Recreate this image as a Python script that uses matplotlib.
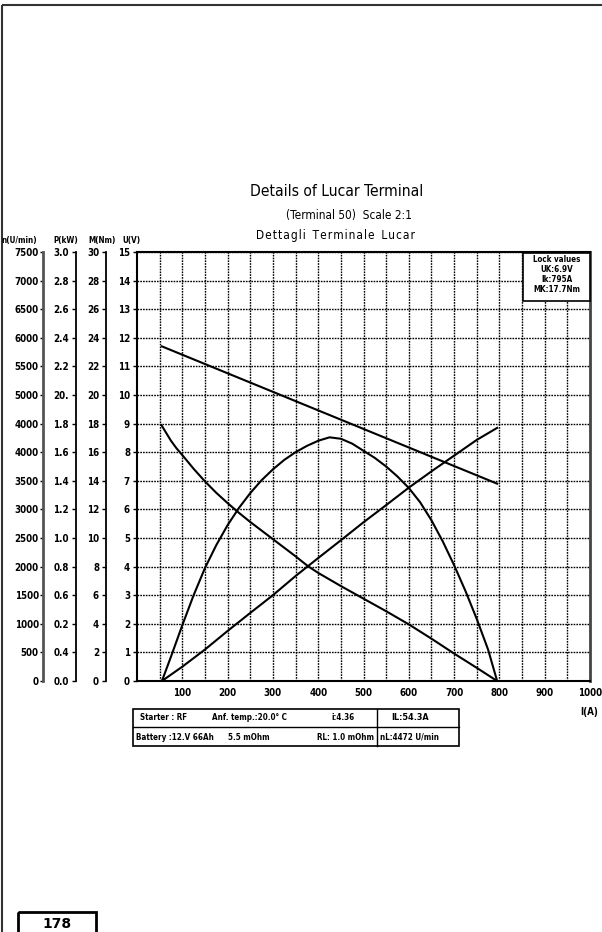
import matplotlib
matplotlib.use("Agg")
import matplotlib.pyplot as plt
from matplotlib import font_manager
from matplotlib.patches import Rectangle
from matplotlib.ticker import FixedLocator

# prefer a condensed sans when one is installed
CONDENSED = any(f.name == "DejaVu Sans" and "condensed" in str(f.stretch)
                for f in font_manager.fontManager.ttflist)
plt.rcParams["font.family"] = ["DejaVu Sans"]
if CONDENSED:
    plt.rcParams["font.stretch"] = "condensed"
K = 1.0 if CONDENSED else 0.85

# ---- scales -------------------------------------------------------------
current_ticks = [100, 200, 300, 400, 500, 600, 700, 800, 900, 1000]
u_ticks = list(range(0, 16))
n_ticks = list(range(0, 7501, 500))
n_labels = ["0", "500", "1000", "1500", "2000", "2500", "3000", "3500",
            "4000", "4000", "5000", "5500", "6000", "6500", "7000", "7500"]
p_ticks = [i * 0.2 for i in range(16)]
p_labels = ["0.0", "0.4", "0.2", "0.6", "0.8", "1.0", "1.2", "1.4",
            "1.6", "1.8", "20.", "2.2", "2.4", "2.6", "2.8", "3.0"]
m_ticks = list(range(0, 31, 2))
m_labels = [str(v) for v in m_ticks]

# ---- measured characteristics --------------------------------------------
volt_I = [55, 795]
volt_U = [11.7, 6.9]

speed_I = [54, 65, 75, 87, 100, 125, 150, 175, 200, 225, 250, 275, 300,
           325, 350, 377, 400, 450, 500, 550, 600, 650, 700, 750, 795]
speed_n = [4472, 4330, 4200, 4070, 3950, 3710, 3490, 3290, 3110, 2940,
           2780, 2630, 2480, 2330, 2180, 2010, 1890, 1660, 1440, 1220,
           990, 740, 480, 230, 0]

power_I = [55, 75, 100, 125, 150, 175, 200, 225, 250, 275, 300, 325, 350,
           375, 400, 425, 450, 475, 500, 525, 550, 575, 600, 625, 650,
           675, 700, 725, 750, 775, 795]
power_kW = [0.0, 0.17, 0.39, 0.60, 0.79, 0.95, 1.09, 1.21, 1.314, 1.404,
            1.48, 1.546, 1.60, 1.644, 1.68, 1.704, 1.694, 1.66, 1.61,
            1.56, 1.50, 1.43, 1.35, 1.25, 1.124, 0.976, 0.81, 0.63, 0.434,
            0.22, 0.0]

torque_I = [55, 100, 150, 200, 250, 300, 350, 400, 450, 500, 550, 600,
            650, 700, 750, 795]
torque_Nm = [0.0, 1.0, 2.2, 3.5, 4.76, 6.0, 7.34, 8.6, 9.84, 11.1, 12.3,
             13.52, 14.66, 15.76, 16.86, 17.7]

lock_lines = ["Lock values", "UK:6.9V", "Ik:795A", "MK:17.7Nm"]

W, H = 602, 932
fig = plt.figure(figsize=(W / 100, H / 100), dpi=100)
fig.patch.set_facecolor("white")

left, right, top, bottom = 137, 590, 252, 681
ax = fig.add_axes([left / W, (H - bottom) / H, (right - left) / W,
                   (bottom - top) / H])
ax.set_xlim(0, 1000)
ax.set_ylim(0, 15)
ax.set_xticks(current_ticks)
ax.set_xticklabels([str(v) for v in current_ticks])
ax.xaxis.set_minor_locator(FixedLocator(list(range(50, 1000, 50))))
ax.set_yticks(u_ticks)
ax.set_yticklabels([str(v) for v in u_ticks])
ax.grid(True, which="both", color="black", linestyle=(0, (1.2, 0.8)),
        linewidth=1.0)
ax.set_axisbelow(True)
ax.tick_params(axis="x", which="both", length=0, pad=5, labelsize=7 * K)
ax.tick_params(axis="y", which="major", direction="out", length=3,
               width=1, pad=2, labelsize=7 * K)
for lab in ax.get_xticklabels() + ax.get_yticklabels():
    lab.set_fontweight("bold")
for sp in ax.spines.values():
    sp.set_linewidth(1.5)
ax.spines["right"].set_linewidth(2.0)
ax.spines["right"].set_color("#444444")

ax.plot(volt_I, volt_U, color="black", linewidth=1.5, zorder=3)


def side_axis(frac, lim, ticks, labels):
    tw = ax.twinx()
    tw.set_ylim(*lim)
    tw.spines["right"].set_visible(False)
    tw.spines["top"].set_visible(False)
    tw.spines["bottom"].set_visible(False)
    tw.spines["left"].set_visible(True)
    tw.spines["left"].set_position(("axes", frac))
    tw.spines["left"].set_linewidth(1.3)
    tw.yaxis.set_ticks_position("left")
    tw.yaxis.set_label_position("left")
    tw.set_yticks(ticks)
    tw.set_yticklabels(labels)
    tw.yaxis.set_minor_locator(FixedLocator([lim[0], lim[1]]))
    tw.tick_params(axis="y", which="major", direction="out", length=3,
                   width=1, pad=2, labelsize=7 * K)
    tw.tick_params(axis="y", which="minor", direction="in", length=4,
                   width=1)
    for lab in tw.get_yticklabels():
        lab.set_fontweight("bold")
    return tw


ax_m = side_axis((106 - left) / (right - left), (0, 30), m_ticks, m_labels)
ax_p = side_axis((76 - left) / (right - left), (0, 3.0), p_ticks, p_labels)
ax_n = side_axis((43 - left) / (right - left), (0, 7500), n_ticks, n_labels)
ax_n.tick_params(axis="y", which="major", pad=1, length=2)
ax_n.spines["left"].set_linewidth(2.0)
ax_n.spines["left"].set_color("#555555")

ax_n.plot(speed_I, speed_n, color="black", linewidth=1.5)
ax_p.plot(power_I, power_kW, color="black", linewidth=1.5)
ax_m.plot(torque_I, torque_Nm, color="black", linewidth=1.5)

# ---- overlay in pixel coordinates for the page furniture -----------------
ov = fig.add_axes([0, 0, 1, 1], zorder=10)
ov.set_xlim(0, W)
ov.set_ylim(H, 0)
ov.axis("off")
ov.patch.set_alpha(0)

# lock values box inside the plot
ov.add_patch(Rectangle((523, 253), 67, 48, facecolor="white",
                       edgecolor="black", linewidth=1.2))
for y, s in zip([259, 270, 279.5, 289.5], lock_lines):
    ov.text(557, y, s, ha="center", va="center", fontsize=5.8 * K,
            fontweight="bold")

# page frame
ov.add_patch(Rectangle((2, 5), 640, 960, facecolor="none",
                       edgecolor="#333333", linewidth=1.5))

# titles
ov.text(337, 191, "Details of Lucar Terminal", ha="center", va="center",
        fontsize=11.2 * K)
ov.text(349, 215, "(Terminal 50)  Scale 2:1", ha="center", va="center",
        fontsize=8.5 * K)
spaced = "\u200a".join("Dettagli") + "  " + "\u200a".join("Terminale") \
    + "  " + "\u200a".join("Lucar")
ov.text(335, 236, spaced, ha="center", va="center", fontsize=8.6 * K,
        color="black")

# axis headers
for x, s in [(1, "n(U/min)"), (53, "P(kW)"), (88, "M(Nm)"), (122, "U(V)")]:
    ov.text(x, 240, s, ha="left", va="center", fontsize=5.8 * K,
            fontweight="bold")
ov.text(589, 712, "I(A)", ha="center", va="center", fontsize=7 * K,
        fontweight="bold")

# data block under the plot
ov.add_patch(Rectangle((133, 709), 326, 37, facecolor="none",
                       edgecolor="black", linewidth=1.2))
ov.plot([133, 459], [727, 727], color="black", linewidth=1.0)
ov.plot([377, 377], [709, 746], color="black", linewidth=1.0)
row1 = [(140, "Starter : RF"), (212, "Anf. temp.:20.0° C"), (331, "i:4.36")]
row2 = [(136, "Battery :12.V 66Ah"), (228, "5.5 mOhm"),
        (317, "RL: 1.0 mOhm"), (380, "nL:4472 U/min")]
for x, s in row1:
    ov.text(x, 718, s, ha="left", va="center", fontsize=5.8 * K,
            fontweight="bold")
for x, s in row2:
    ov.text(x, 737, s, ha="left", va="center", fontsize=5.8 * K,
            fontweight="bold")
ov.text(410, 718, "IL:54.3A", ha="center", va="center", fontsize=6.5 * K,
        fontweight="bold")

# page number
ov.add_patch(Rectangle((18, 912), 78, 40, facecolor="none",
                       edgecolor="black", linewidth=2))
ov.text(57, 931, "178", ha="center", va="bottom", fontsize=10,
        fontweight="bold", family="DejaVu Sans", stretch="normal")

fig.savefig("out.png", dpi=100)
